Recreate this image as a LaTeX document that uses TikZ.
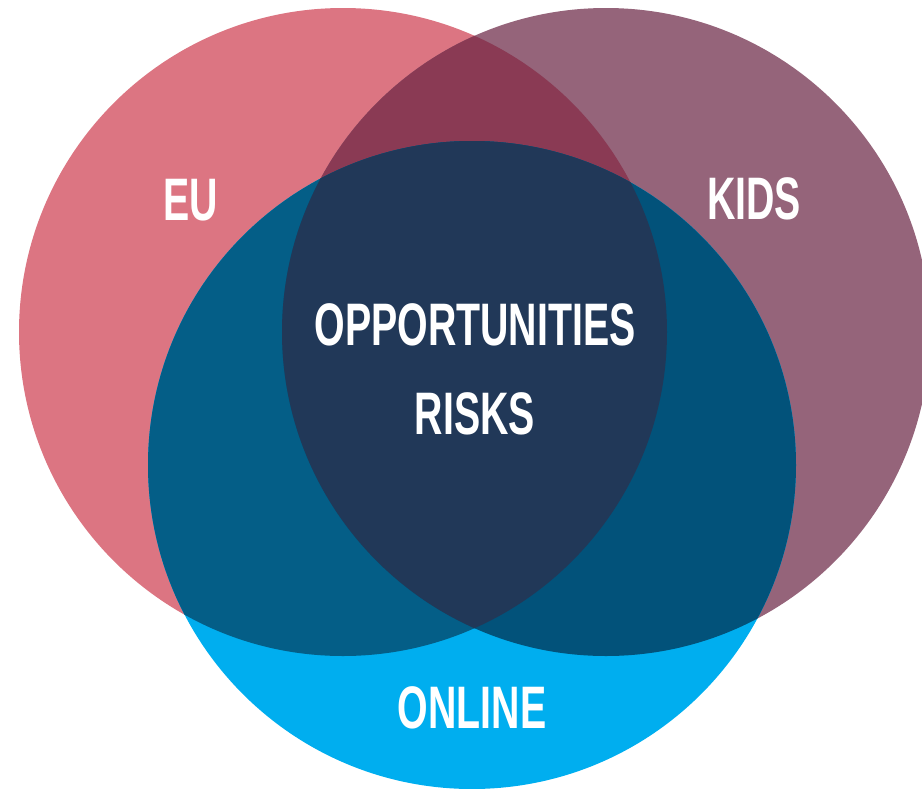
\documentclass[tikz,border=0pt]{standalone}
\usepackage{fontspec}
\setmainfont{Liberation Sans}
\definecolor{eured}{HTML}{DC7582}
\definecolor{kidsmauve}{HTML}{95647A}
\definecolor{onlineblue}{HTML}{00AEEF}
\definecolor{eukids}{HTML}{8A3A54}
\definecolor{euonline}{HTML}{045E87}
\definecolor{kidsonline}{HTML}{02527A}
\definecolor{allthree}{HTML}{213858}

\begin{document}
\begin{tikzpicture}[x=1pt,y=-1pt,
    setlabel/.style={text=white,font=\bfseries\fontsize{60}{89}\selectfont,xscale=0.655,align=center,inner sep=0pt}]
    \useasboundingbox (0,0) rectangle (922,788);
    \clip (0,0) rectangle (922,788);

    % centres of the sets
    \coordinate (eu) at (343,332);
    \coordinate (kids) at (606,332);
    \coordinate (online) at (472,465);
    \def\rad{324pt}

    % the three sets
    \fill[eured] (eu) circle[radius=\rad];
    \fill[kidsmauve] (kids) circle[radius=\rad];
    \fill[onlineblue] (online) circle[radius=\rad];

    % overlaps
    \begin{scope}
        \clip (eu) circle[radius=\rad];
        \fill[eukids] (kids) circle[radius=\rad];
        \fill[euonline] (online) circle[radius=\rad];
    \end{scope}
    \begin{scope}
        \clip (kids) circle[radius=\rad];
        \fill[kidsonline] (online) circle[radius=\rad];
    \end{scope}
    \begin{scope}
        \clip (eu) circle[radius=\rad];
        \clip (kids) circle[radius=\rad];
        \fill[allthree] (online) circle[radius=\rad];
    \end{scope}

    % labels
    \node[setlabel] (eulabel) at (191,200) {EU};
    \node[setlabel] (kidslabel) at (754,199) {KIDS};
    \node[setlabel] (onlinelabel) at (472,708) {ONLINE};
    \node[setlabel] (centrelabel) at (475,369) {OPPORTUNITIES\\RISKS};
\end{tikzpicture}
\end{document}
